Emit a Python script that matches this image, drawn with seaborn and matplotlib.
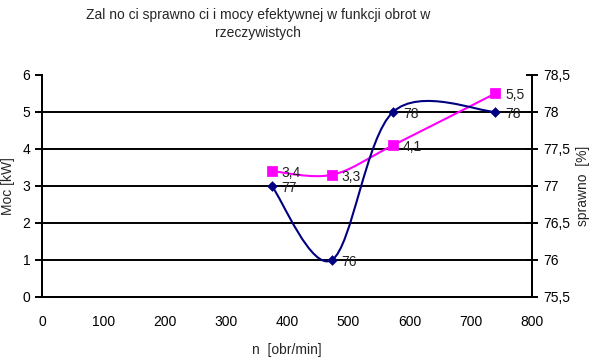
import numpy as np
import pandas as pd
import matplotlib
matplotlib.use("Agg")
import matplotlib.pyplot as plt
from matplotlib.path import Path
from matplotlib.patches import PathPatch
import seaborn as sns

sns.set_style("white")
plt.rcParams['font.family'] = ['Liberation Sans', 'DejaVu Sans']

# data
obroty = [375, 473, 573, 740]
moc = [3.4, 3.3, 4.1, 5.5]
sprawnosc = [77, 76, 78, 78]
moc_labels = ["3,4", "3,3", "4,1", "5,5"]
spr_labels = ["77", "76", "78", "78"]

x_ticks = [0, 100, 200, 300, 400, 500, 600, 700, 800]
left_ticks = [0, 1, 2, 3, 4, 5, 6]
right_ticks = [75.5, 76, 76.5, 77, 77.5, 78, 78.5]
right_ticklabels = ["75,5", "76", "76,5", "77", "77,5", "78", "78,5"]

df = pd.DataFrame({"n": obroty, "moc": moc, "spr": sprawnosc})


# excel-like smoothed line as bezier path through the points
def smooth_path(xs, ys):
    pts = np.column_stack([xs, ys]).astype(float)
    ext = np.vstack([pts[0], pts, pts[-1]])
    verts = [pts[0]]
    codes = [Path.MOVETO]
    for i in range(len(pts) - 1):
        p0, p1, p2, p3 = ext[i], ext[i + 1], ext[i + 2], ext[i + 3]
        c1 = p1 + (p2 - p0) / 6.0
        c2 = p2 - (p3 - p1) / 6.0
        verts += [c1, c2, p2]
        codes += [Path.CURVE4] * 3
    return Path(verts, codes)


fig = plt.figure(figsize=(6, 3.6), dpi=100)
ax = fig.add_axes([0.07, 0.175, 0.817, 0.617])
ax2 = ax.twinx()

# grid lines
for t in left_ticks[1:-1]:
    ax.axhline(t, color="black", lw=1.4, zorder=1)

# power (left)
ax.add_patch(PathPatch(smooth_path(df["n"], df["moc"]), fill=False,
                       edgecolor="#FF00FF", lw=1.5, zorder=3))
sns.scatterplot(data=df, x="n", y="moc", ax=ax, marker="s", s=45,
                color="#FF00FF", edgecolor="#FF00FF", zorder=4, legend=False)

# efficiency (right)
ax2.add_patch(PathPatch(smooth_path(df["n"], df["spr"]), fill=False,
                        edgecolor="#000080", lw=1.5, zorder=3))
sns.scatterplot(data=df, x="n", y="spr", ax=ax2, marker="D", s=25,
                color="#000080", edgecolor="#000080", zorder=4, legend=False)

for xv, yv, lab in zip(obroty, moc, moc_labels):
    ax.annotate(lab, (xv, yv), xytext=(7, -1.5), textcoords="offset points",
                ha="left", va="center", fontsize=10, color="#222222")
for xv, yv, lab in zip(obroty, sprawnosc, spr_labels):
    ax2.annotate(lab, (xv, yv), xytext=(7, -1.5), textcoords="offset points",
                 ha="left", va="center", fontsize=10, color="#222222")

ax.set_xlim(0, 800)
ax.set_ylim(0, 6)
ax2.set_ylim(75.5, 78.5)
ax.set_xticks(x_ticks)
ax.set_yticks(left_ticks)
ax2.set_yticks(right_ticks)
ax2.set_yticklabels(right_ticklabels)

for a in (ax, ax2):
    for s in a.spines.values():
        s.set_color("black")
        s.set_linewidth(1.4)
ax.spines["top"].set_visible(False)
ax2.spines["top"].set_visible(False)

ax.tick_params(axis="both", direction="out", length=5, width=1.4,
               labelsize=10, colors="black")
ax.tick_params(axis="x", pad=8)
ax2.tick_params(axis="y", direction="inout", length=8, width=1.4,
                labelsize=10, colors="black", pad=4)

ax.set_xlabel("n  [obr/min]", fontsize=10, labelpad=10)
ax.set_ylabel("Moc [kW]", fontsize=10, labelpad=5)
ax2.set_ylabel("sprawno  [%]", fontsize=10, labelpad=4)

fig.text(0.43, 0.934, "Zal no ci sprawno ci i mocy efektywnej w funkcji obrot w\nrzeczywistych",
         ha="center", va="center", fontsize=10, linespacing=1.4)

fig.savefig("out.png", dpi=100)
